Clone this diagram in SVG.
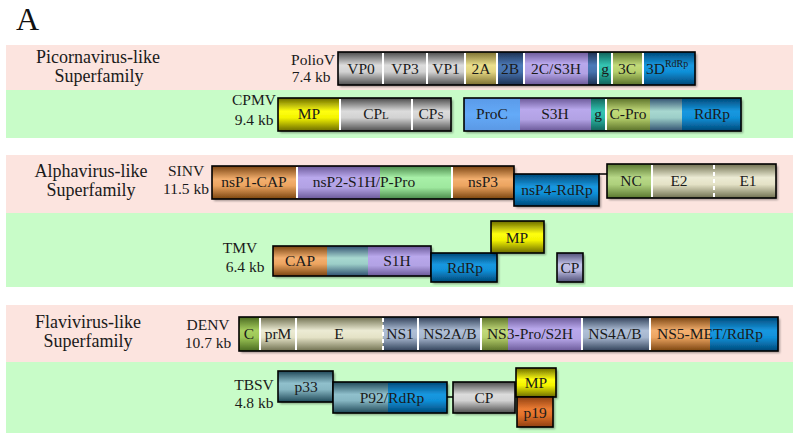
<svg xmlns="http://www.w3.org/2000/svg" width="800" height="443" viewBox="0 0 800 443">
<defs>
<linearGradient id="gGray" x1="0" y1="0" x2="0" y2="1"><stop offset="0" stop-color="#4a4a4a"/><stop offset="0.4" stop-color="#dcdcdc"/><stop offset="0.6" stop-color="#d2d2d2"/><stop offset="1" stop-color="#4e4e4e"/></linearGradient>
<linearGradient id="gYel" x1="0" y1="0" x2="0" y2="1"><stop offset="0" stop-color="#6b6b00"/><stop offset="0.4" stop-color="#ffff10"/><stop offset="0.6" stop-color="#f4f400"/><stop offset="1" stop-color="#6b6b00"/></linearGradient>
<linearGradient id="gKhaki" x1="0" y1="0" x2="0" y2="1"><stop offset="0" stop-color="#7a6e30"/><stop offset="0.4" stop-color="#eadf8c"/><stop offset="0.6" stop-color="#e2d480"/><stop offset="1" stop-color="#7a6e30"/></linearGradient>
<linearGradient id="gNavy" x1="0" y1="0" x2="0" y2="1"><stop offset="0" stop-color="#1c3050"/><stop offset="0.4" stop-color="#4c7ab8"/><stop offset="0.6" stop-color="#4672ae"/><stop offset="1" stop-color="#1c3050"/></linearGradient>
<linearGradient id="gPurp" x1="0" y1="0" x2="0" y2="1"><stop offset="0" stop-color="#6a5898"/><stop offset="0.35" stop-color="#b9a8ec"/><stop offset="0.65" stop-color="#b2a2e4"/><stop offset="1" stop-color="#6a5898"/></linearGradient>
<linearGradient id="gTeal" x1="0" y1="0" x2="0" y2="1"><stop offset="0" stop-color="#106058"/><stop offset="0.4" stop-color="#34c4b2"/><stop offset="0.6" stop-color="#2cb8a6"/><stop offset="1" stop-color="#106058"/></linearGradient>
<linearGradient id="gOlive" x1="0" y1="0" x2="0" y2="1"><stop offset="0" stop-color="#5a7028"/><stop offset="0.4" stop-color="#c2da7a"/><stop offset="0.6" stop-color="#b6d06c"/><stop offset="1" stop-color="#5a7028"/></linearGradient>
<linearGradient id="gBlue" x1="0" y1="0" x2="0" y2="1"><stop offset="0" stop-color="#004878"/><stop offset="0.4" stop-color="#1898e0"/><stop offset="0.6" stop-color="#1090d8"/><stop offset="1" stop-color="#004878"/></linearGradient>
<linearGradient id="gLBlue" x1="0" y1="0" x2="0" y2="1"><stop offset="0" stop-color="#5a9ae8"/><stop offset="0.5" stop-color="#64aaf8"/><stop offset="1" stop-color="#5a98e4"/></linearGradient>
<linearGradient id="gPale" x1="0" y1="0" x2="0" y2="1"><stop offset="0" stop-color="#305070"/><stop offset="0.4" stop-color="#a8d8d0"/><stop offset="0.6" stop-color="#9ccec8"/><stop offset="1" stop-color="#305070"/></linearGradient>
<linearGradient id="gOrange" x1="0" y1="0" x2="0" y2="1"><stop offset="0" stop-color="#7a4410"/><stop offset="0.4" stop-color="#f4b070"/><stop offset="0.6" stop-color="#eca460"/><stop offset="1" stop-color="#7a4410"/></linearGradient>
<linearGradient id="gLGreen" x1="0" y1="0" x2="0" y2="1"><stop offset="0" stop-color="#4a8a4a"/><stop offset="0.35" stop-color="#a8f0a8"/><stop offset="0.65" stop-color="#9ee89e"/><stop offset="1" stop-color="#4a8a4a"/></linearGradient>
<linearGradient id="gNC" x1="0" y1="0" x2="0" y2="1"><stop offset="0" stop-color="#5a7830"/><stop offset="0.4" stop-color="#b8d888"/><stop offset="0.6" stop-color="#aed07c"/><stop offset="1" stop-color="#5a7830"/></linearGradient>
<linearGradient id="gBeige" x1="0" y1="0" x2="0" y2="1"><stop offset="0" stop-color="#707050"/><stop offset="0.4" stop-color="#ecebd4"/><stop offset="0.6" stop-color="#e4e2c6"/><stop offset="1" stop-color="#707050"/></linearGradient>
<linearGradient id="gSlate" x1="0" y1="0" x2="0" y2="1"><stop offset="0" stop-color="#304058"/><stop offset="0.4" stop-color="#b0c0d8"/><stop offset="0.6" stop-color="#a6b6ce"/><stop offset="1" stop-color="#304058"/></linearGradient>
<linearGradient id="gP33" x1="0" y1="0" x2="0" y2="1"><stop offset="0" stop-color="#1f4858"/><stop offset="0.4" stop-color="#90c0cc"/><stop offset="0.6" stop-color="#86b6c2"/><stop offset="1" stop-color="#1f4858"/></linearGradient>
<linearGradient id="gP19" x1="0" y1="0" x2="0" y2="1"><stop offset="0" stop-color="#904010"/><stop offset="0.4" stop-color="#ec7c34"/><stop offset="0.6" stop-color="#e4722a"/><stop offset="1" stop-color="#904010"/></linearGradient>
<linearGradient id="gLav" x1="0" y1="0" x2="0" y2="1"><stop offset="0" stop-color="#505078"/><stop offset="0.4" stop-color="#c4c4ea"/><stop offset="0.6" stop-color="#babae0"/><stop offset="1" stop-color="#505078"/></linearGradient>
<linearGradient id="gCgreen" x1="0" y1="0" x2="0" y2="1"><stop offset="0" stop-color="#4a6a20"/><stop offset="0.4" stop-color="#a8d060"/><stop offset="0.6" stop-color="#9cc656"/><stop offset="1" stop-color="#4a6a20"/></linearGradient>
<filter id="sh" x="-5%" y="-10%" width="115%" height="140%"><feDropShadow dx="2" dy="2" stdDeviation="1" flood-color="#000" flood-opacity="0.35"/></filter>
</defs>
<style>
.t{font-family:"Liberation Serif","DejaVu Serif",serif;font-size:15.5px;fill:#1a1a1a;text-anchor:middle}
.gl{font-size:18px}
.ol{fill:none;stroke:#000;stroke-width:1.6}
.sep{stroke:#fff;stroke-width:2}
.dsep{stroke:#fff;stroke-width:2;stroke-dasharray:4 3}
.con{stroke:#000;stroke-width:1.5;fill:none}
.pink{fill:#fce4df}
.green{fill:#c8fcc8}
</style>
<rect width="800" height="443" fill="#fff"/>
<text x="16" y="30" font-family="Liberation Serif, serif" font-size="32" fill="#111">A</text>

<g id="bands">
<rect class="pink" x="6" y="45" width="787" height="45"/>
<rect class="green" x="6" y="90" width="787" height="48"/>
<rect class="pink" x="6" y="155" width="787" height="58"/>
<rect class="green" x="6" y="213" width="787" height="74"/>
<rect class="pink" x="6" y="305" width="787" height="57"/>
<rect class="green" x="6" y="362" width="787" height="71"/>
</g>

<g id="group-labels">
<text class="t gl" x="98" y="63">Picornavirus-like</text>
<text class="t gl" x="99" y="82">Superfamily</text>
<text class="t gl" x="91" y="177">Alphavirus-like</text>
<text class="t gl" x="91" y="196">Superfamily</text>
<text class="t gl" x="88" y="328">Flavivirus-like</text>
<text class="t gl" x="88" y="347">Superfamily</text>
</g>

<g id="virus-labels">
<text class="t" x="313" y="65">PolioV</text><text class="t" x="311" y="82">7.4 kb</text>
<text class="t" x="254" y="105">CPMV</text><text class="t" x="254" y="125">9.4 kb</text>
<text class="t" x="186" y="176">SINV</text><text class="t" x="186" y="194">11.5 kb</text>
<text class="t" x="240" y="253">TMV</text><text class="t" x="245" y="272">6.4 kb</text>
<text class="t" x="208" y="330">DENV</text><text class="t" x="208" y="348">10.7 kb</text>
<text class="t" x="254" y="390">TBSV</text><text class="t" x="254" y="408">4.8 kb</text>
</g>

<g id="connectors">
<line class="con" x1="599" y1="174" x2="607" y2="174"/>
<line class="con" x1="447" y1="397" x2="453" y2="397"/>
</g>

<g id="polioV">
<g filter="url(#sh)">
<rect x="338" y="52" width="45" height="33" fill="url(#gGray)"/>
<rect x="383" y="52" width="44" height="33" fill="url(#gGray)"/>
<rect x="427" y="52" width="38" height="33" fill="url(#gGray)"/>
<rect x="465" y="52" width="32" height="33" fill="url(#gKhaki)"/>
<rect x="497" y="52" width="27" height="33" fill="url(#gNavy)"/>
<rect x="524" y="52" width="64" height="33" fill="url(#gPurp)"/>
<rect x="588" y="52" width="10" height="33" fill="url(#gNavy)"/>
<rect x="598" y="52" width="14" height="33" fill="url(#gTeal)"/>
<rect x="612" y="52" width="31" height="33" fill="url(#gOlive)"/>
<rect x="643" y="52" width="52" height="33" fill="url(#gBlue)"/>
</g>
<rect class="ol" x="338" y="52" width="357" height="33"/>
<path class="sep" d="M383 53V84M427 53V84M465 53V84M497 53V84M524 53V84M598 53V84M612 53V84M643 53V84"/>
<text class="t" x="361" y="74">VP0</text>
<text class="t" x="405" y="74">VP3</text>
<text class="t" x="446" y="74">VP1</text>
<text class="t" x="481" y="74">2A</text>
<text class="t" x="510" y="74">2B</text>
<text class="t" x="556" y="74">2C/S3H</text>
<text class="t" x="605" y="74">g</text>
<text class="t" x="627" y="74">3C</text>
<text class="t" x="646" y="74" style="text-anchor:start">3D<tspan font-size="10" dy="-7">RdRp</tspan></text>
</g>

<g id="cpmv-rna2">
<g filter="url(#sh)">
<rect x="278" y="98" width="62" height="33" fill="url(#gYel)"/>
<rect x="340" y="98" width="72" height="33" fill="url(#gGray)"/>
<rect x="412" y="98" width="39" height="33" fill="url(#gGray)"/>
</g>
<rect class="ol" x="278" y="98" width="173" height="33"/>
<path class="sep" d="M340 99V130M412 99V130"/>
<text class="t" x="309" y="119">MP</text>
<text class="t" x="376" y="119">CP<tspan font-size="11">L</tspan></text>
<text class="t" x="431" y="119">CP<tspan font-size="11">S</tspan></text>
</g>

<g id="cpmv-rna1">
<g filter="url(#sh)">
<rect x="464" y="98" width="56" height="33" fill="url(#gLBlue)"/>
<rect x="520" y="98" width="71" height="33" fill="url(#gPurp)"/>
<rect x="591" y="98" width="15" height="33" fill="url(#gTeal)"/>
<rect x="606" y="98" width="44" height="33" fill="url(#gOlive)"/>
<rect x="650" y="98" width="32" height="33" fill="url(#gPale)"/>
<rect x="682" y="98" width="59" height="33" fill="url(#gBlue)"/>
</g>
<rect class="ol" x="464" y="98" width="277" height="33"/>
<path class="sep" d="M606 99V130"/>
<text class="t" x="492" y="119">ProC</text>
<text class="t" x="555" y="119">S3H</text>
<text class="t" x="598" y="119">g</text>
<text class="t" x="628" y="119">C-Pro</text>
<text class="t" x="712" y="119">RdRp</text>
</g>

<g id="sinv-ns">
<g filter="url(#sh)">
<rect x="212" y="166" width="85" height="33" fill="url(#gOrange)"/>
<rect x="297" y="166" width="83" height="33" fill="url(#gPurp)"/>
<rect x="380" y="166" width="72" height="33" fill="url(#gLGreen)"/>
<rect x="452" y="166" width="62" height="33" fill="url(#gOrange)"/>
</g>
<rect class="ol" x="212" y="166" width="302" height="33"/>
<path class="sep" d="M297 167V198M452 167V198"/>
<text class="t" x="254" y="187">nsP1-CAP</text>
<text class="t" x="364" y="187">nsP2-S1H/P-Pro</text>
<text class="t" x="483" y="187">nsP3</text>
</g>

<g id="sinv-nsp4">
<rect x="514" y="174" width="85" height="32" fill="url(#gBlue)" filter="url(#sh)"/>
<rect class="ol" x="514" y="174" width="85" height="32"/>
<text class="t" x="557" y="195">nsP4-RdRp</text>
</g>

<g id="sinv-structural">
<g filter="url(#sh)">
<rect x="607" y="164" width="45" height="34" fill="url(#gNC)"/>
<rect x="652" y="164" width="62" height="34" fill="url(#gBeige)"/>
<rect x="714" y="164" width="62" height="34" fill="url(#gBeige)"/>
</g>
<rect class="ol" x="607" y="164" width="169" height="34"/>
<path class="sep" d="M652 165V197"/>
<path class="dsep" d="M714 165V197"/>
<text class="t" x="631" y="186">NC</text>
<text class="t" x="679" y="186">E2</text>
<text class="t" x="748" y="186">E1</text>
</g>

<g id="tmv-replicase">
<g filter="url(#sh)">
<rect x="273" y="246" width="54" height="30" fill="url(#gOrange)"/>
<rect x="327" y="246" width="41" height="30" fill="url(#gPale)"/>
<rect x="368" y="246" width="63" height="30" fill="url(#gPurp)"/>
</g>
<rect class="ol" x="273" y="246" width="158" height="30"/>
<text class="t" x="300" y="266">CAP</text>
<text class="t" x="397" y="266">S1H</text>
</g>

<g id="tmv-rdrp">
<rect x="431" y="253" width="66" height="29" fill="url(#gBlue)" filter="url(#sh)"/>
<rect class="ol" x="431" y="253" width="66" height="29"/>
<text class="t" x="465" y="273">RdRp</text>
</g>

<g id="tmv-mp">
<rect x="491" y="221" width="53" height="32" fill="url(#gYel)" filter="url(#sh)"/>
<rect class="ol" x="491" y="221" width="53" height="32"/>
<text class="t" x="517" y="243">MP</text>
</g>

<g id="tmv-cp">
<rect x="557" y="253" width="26" height="29" fill="url(#gLav)" filter="url(#sh)"/>
<rect class="ol" x="557" y="253" width="26" height="29"/>
<text class="t" x="570" y="273">CP</text>
</g>

<g id="denv">
<g filter="url(#sh)">
<rect x="239" y="317" width="21" height="34" fill="url(#gCgreen)"/>
<rect x="260" y="317" width="36" height="34" fill="url(#gBeige)"/>
<rect x="296" y="317" width="87" height="34" fill="url(#gBeige)"/>
<rect x="383" y="317" width="35" height="34" fill="url(#gSlate)"/>
<rect x="418" y="317" width="63" height="34" fill="url(#gSlate)"/>
<rect x="481" y="317" width="27" height="34" fill="url(#gOlive)"/>
<rect x="508" y="317" width="74" height="34" fill="url(#gPurp)"/>
<rect x="582" y="317" width="68" height="34" fill="url(#gSlate)"/>
<rect x="650" y="317" width="60" height="34" fill="url(#gOrange)"/>
<rect x="710" y="317" width="68" height="34" fill="url(#gBlue)"/>
</g>
<rect class="ol" x="239" y="317" width="539" height="34"/>
<path class="sep" d="M260 318V350M296 318V350M418 318V350M481 318V350M582 318V350M650 318V350"/>
<path class="dsep" d="M383 318V350"/>
<text class="t" x="249" y="339">C</text>
<text class="t" x="278" y="339">prM</text>
<text class="t" x="339" y="339">E</text>
<text class="t" x="400" y="339">NS1</text>
<text class="t" x="450" y="339">NS2A/B</text>
<text class="t" x="530" y="339">NS3-Pro/S2H</text>
<text class="t" x="615" y="339">NS4A/B</text>
<text class="t" x="710" y="339">NS5-MET/RdRp</text>
</g>

<g id="tbsv-p33">
<rect x="278" y="371" width="55" height="31" fill="url(#gP33)" filter="url(#sh)"/>
<rect class="ol" x="278" y="371" width="55" height="31"/>
<text class="t" x="306" y="392">p33</text>
</g>

<g id="tbsv-p92">
<g filter="url(#sh)">
<rect x="333" y="382" width="55" height="31" fill="url(#gP33)"/>
<rect x="388" y="382" width="59" height="31" fill="url(#gBlue)"/>
</g>
<rect class="ol" x="333" y="382" width="114" height="31"/>
<text class="t" x="392" y="403">P92/RdRp</text>
</g>

<g id="tbsv-cp">
<rect x="453" y="382" width="62" height="31" fill="url(#gGray)" filter="url(#sh)"/>
<rect class="ol" x="453" y="382" width="62" height="31"/>
<text class="t" x="484" y="403">CP</text>
</g>

<g id="tbsv-mp">
<rect x="516" y="368" width="40" height="29" fill="url(#gYel)" filter="url(#sh)"/>
<rect class="ol" x="516" y="368" width="40" height="29"/>
<text class="t" x="536" y="388">MP</text>
</g>

<g id="tbsv-p19">
<rect x="517" y="397" width="36" height="30" fill="url(#gP19)" filter="url(#sh)"/>
<rect class="ol" x="517" y="397" width="36" height="30"/>
<text class="t" x="535" y="418">p19</text>
</g>
</svg>
